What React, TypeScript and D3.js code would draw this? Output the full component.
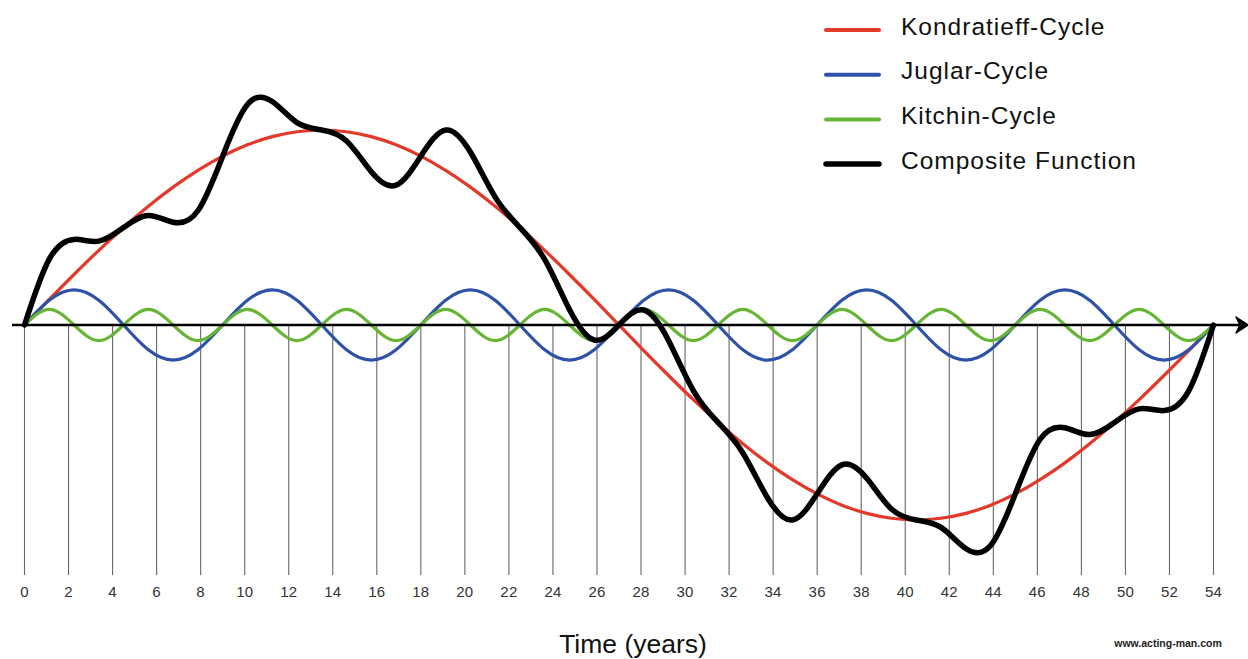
import React from "react";
import * as d3 from "d3";

// time grid (years) at which the curves were read
const years = [
  0, 1.125, 2.25, 3.375, 4.5, 5.625, 6.75, 7.875, 9, 10.125, 11.25, 12.375, 13.5,
  14.625, 15.75, 16.875, 18, 19.125, 20.25, 21.375, 22.5, 23.625, 24.75, 25.875, 27,
  28.125, 29.25, 30.375, 31.5, 32.625, 33.75, 34.875, 36, 37.125, 38.25, 39.375, 40.5,
  41.625, 42.75, 43.875, 45, 46.125, 47.25, 48.375, 49.5, 50.625, 51.75, 52.875, 54,
];

const kondratieff = [
  0, 13.1, 25.9, 38.3, 50, 60.9, 70.7, 79.3, 86.6, 92.4, 96.6, 99.1, 100,
  99.1, 96.6, 92.4, 86.6, 79.3, 70.7, 60.9, 50, 38.3, 25.9, 13.1, 0,
  -13.1, -25.9, -38.3, -50, -60.9, -70.7, -79.3, -86.6, -92.4, -96.6, -99.1, -100,
  -99.1, -96.6, -92.4, -86.6, -79.3, -70.7, -60.9, -50, -38.3, -25.9, -13.1, 0,
];

const juglar = [
  0, 12.7, 18, 12.7, 0, -12.7, -18, -12.7,
  0, 12.7, 18, 12.7, 0, -12.7, -18, -12.7,
  0, 12.7, 18, 12.7, 0, -12.7, -18, -12.7,
  0, 12.7, 18, 12.7, 0, -12.7, -18, -12.7,
  0, 12.7, 18, 12.7, 0, -12.7, -18, -12.7,
  0, 12.7, 18, 12.7, 0, -12.7, -18, -12.7,
  0,
];

const kitchin = [
  0, 8, 0, -8, 0, 8, 0, -8, 0, 8, 0, -8, 0, 8, 0, -8, 0, 8, 0, -8, 0, 8, 0, -8,
  0, 8, 0, -8, 0, 8, 0, -8, 0, 8, 0, -8, 0, 8, 0, -8, 0, 8, 0, -8, 0, 8, 0, -8,
  0,
];

const composite = [
  0, 33.8, 43.9, 43.0, 50, 56.2, 52.7, 58.6, 86.6, 113.1, 114.6, 103.8, 100,
  94.4, 78.6, 71.7, 86.6, 100.0, 88.7, 65.6, 50, 33.6, 7.9, -7.7, 0,
  7.7, -7.9, -33.6, -50, -65.6, -88.7, -100.0, -86.6, -71.7, -78.6, -94.4, -100,
  -103.8, -114.6, -113.1, -86.6, -58.6, -52.7, -56.2, -50, -43.0, -43.9, -33.8, 0,
];

const tickYears = [
  0, 2, 4, 6, 8, 10, 12, 14, 16, 18, 20, 22, 24, 26, 28, 30, 32, 34, 36, 38, 40,
  42, 44, 46, 48, 50, 52, 54,
];

const legendLabels = ["Kondratieff-Cycle", "Juglar-Cycle", "Kitchin-Cycle", "Composite Function"];
const seriesColors = ["#e2392a", "#2d52a6", "#66b535", "#000000"];
const seriesWidths = [3.2, 3.2, 3.2, 5.5];

const W = 1248;
const H = 659;
const FONT = "Helvetica, Arial, 'Liberation Sans', sans-serif";

export default function App() {
  const x = d3.scaleLinear().domain([0, 54]).range([24.5, 1213.5]);
  const y = d3.scaleLinear().domain([-100, 100]).range([520, 130]);
  const y0 = y(0);

  const line = d3
    .line<number>()
    .x((_, i) => x(years[i]))
    .y((d) => y(d))
    .curve(d3.curveNatural);

  const series = [kondratieff, juglar, kitchin, composite];

  return (
    <svg
      width={W}
      height={H}
      viewBox={`0 0 ${W} ${H}`}
      style={{ position: "absolute", left: 0, top: 0, background: "#fff" }}
      fontFamily={FONT}
    >
      <rect x={0} y={0} width={W} height={H} fill="#fff" />
      {/* vertical grid lines */}
      {tickYears.map((t) => (
        <line key={"g" + t} x1={x(t)} x2={x(t)} y1={y0} y2={575} stroke="#666" strokeWidth={1.1} />
      ))}
      {/* tick labels */}
      {tickYears.map((t) => (
        <text key={"t" + t} x={x(t)} y={597} textAnchor="middle" fontSize={15} letterSpacing={0.2} fill="#333">
          {t}
        </text>
      ))}
      {/* cycles */}
      {series.slice(0, 3).map((s, i) => (
        <path
          key={"s" + i}
          d={line(s) || ""}
          fill="none"
          stroke={seriesColors[i]}
          strokeWidth={seriesWidths[i]}
          strokeLinecap="round"
          strokeLinejoin="round"
        />
      ))}
      {/* x axis with arrow */}
      <line x1={12} x2={1242} y1={y0} y2={y0} stroke="#000" strokeWidth={2.5} />
      <path
        d={`M${1248},${y0} L${1236},${y0 - 8} L${1240},${y0} L${1236},${y0 + 8} Z`}
        fill="#000"
        stroke="#000"
        strokeWidth={1.5}
        strokeLinejoin="round"
      />
      {/* composite */}
      <path
        d={line(composite) || ""}
        fill="none"
        stroke={seriesColors[3]}
        strokeWidth={seriesWidths[3]}
        strokeLinecap="round"
        strokeLinejoin="round"
      />
      {/* legend */}
      {legendLabels.map((lab, i) => (
        <g key={"l" + i} transform={`translate(0, ${30 + i * 44.7})`}>
          <line
            x1={826}
            x2={879}
            y1={0}
            y2={0}
            stroke={seriesColors[i]}
            strokeWidth={i === 3 ? 5.5 : 4}
            strokeLinecap="round"
          />
          <text x={901} y={4.5} fontSize={24.5} letterSpacing={1.0} fill="#111">
            {lab}
          </text>
        </g>
      ))}
      {/* axis title */}
      <text x={633} y={653} textAnchor="middle" fontSize={26.5} fill="#111">
        Time (years)
      </text>
      <text x={1168} y={647} textAnchor="middle" fontSize={10.5} fontWeight="bold" fill="#222">
        www.acting-man.com
      </text>
    </svg>
  );
}
